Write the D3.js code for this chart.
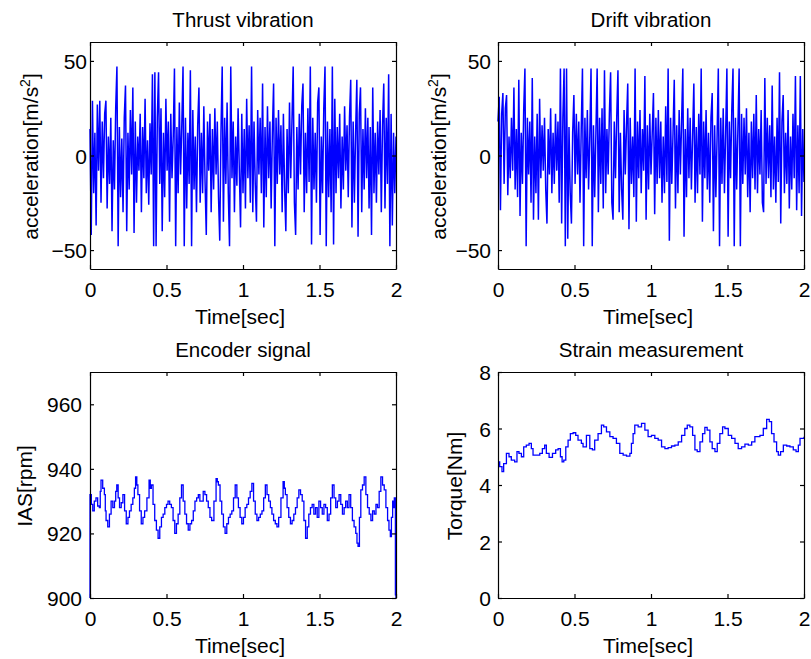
<!DOCTYPE html>
<html><head><meta charset="utf-8">
<script src="https://cdn.jsdelivr.net/npm/d3@7"></script>
<style>
body{margin:0;background:#fff;}
svg{display:block;font-family:"Liberation Sans",Arial,sans-serif;}
</style></head>
<body><svg id="c" width="811" height="659"></svg>
<script>
// ---------------- DATA ----------------
const xTicks = [0, 0.5, 1, 1.5, 2];
const xTickLabels = ["0", "0.5", "1", "1.5", "2"];
const vibYTicks = [-50, 0, 50];
const encYTicks = [900, 920, 940, 960];
const torYTicks = [0, 2, 4, 6, 8];
const vibDt = 0.008; // sample spacing [s]

const thrust = [
 14,-42,29,-20,12,-37,27,-8,29,-25,
 18,-12,22,29,-28,10,-15,20,-40,8,
 -18,25,47,-48,15,-22,9,-30,20,37,
 -40,12,-18,24,-10,36,-41,18,-25,10,
 -8,22,-30,15,-12,30,-20,8,-26,17,
 -10,43,-48,44,-48,20,44,-15,25,-40,
 12,-22,30,-8,18,-35,22,-12,10,46,
 -48,15,-20,28,-10,16,47,-48,20,-28,
 12,-15,45,-48,24,-18,10,-30,16,36,
 -25,12,-20,26,-14,-42,18,-8,22,-30,
 14,-18,25,-10,18,-22,-45,12,47,-35,
 20,-15,28,-20,-48,47,-12,18,-30,10,
 -16,25,-8,-38,22,-20,14,-28,30,-12,
 16,-25,47,-30,18,-15,-35,24,-10,20,
 -20,38,-38,15,-22,26,-12,18,-28,12,
 38,-48,20,-15,24,-10,16,-30,22,-18,
 -40,14,-20,28,-12,18,47,-25,-42,15,
 -18,22,-10,26,38,-30,12,-20,25,-14,
 47,-47,20,-18,12,-25,28,36,-42,10,
 -20,25,47,-48,18,-22,14,-30,47,-47,
 30,-20,15,-12,22,-28,10,-18,26,-8,
 16,-22,20,40,-38,18,-25,12,40,-43,
 22,36,-30,14,-18,25,-12,20,-28,15,
 -42,36,-20,12,-25,18,-10,24,-30,16,
 38,-28,20,-15,43,-48,22,-37,12,-20,
 10
];

const drift = [
 18,31,-29,22,33,-15,25,32,-21,10,
 -12,20,-8,36,-18,14,-22,40,-32,12,
 -15,24,46,-48,20,-10,18,-25,41,-34,
 10,-20,22,-34,30,-12,16,-8,20,-18,
 -36,14,-10,25,-20,12,-15,22,-8,18,
 -25,46,-36,20,46,-48,46,-44,15,-20,
 -36,12,32,-15,22,-10,18,-25,14,46,
 -48,20,-12,24,-18,10,46,-48,16,-22,
 12,46,-30,20,-15,25,-28,45,-20,14,
 -10,22,44,-25,-34,18,-12,20,45,-30,
 12,-18,-34,24,-10,16,38,-39,20,-15,
 10,-22,46,-35,18,-12,24,-20,14,-8,
 42,-34,16,-18,22,-10,12,33,-31,20,
 -15,24,-12,18,-25,10,-20,26,-14,46,
 -45,20,-15,12,40,-28,16,-20,24,-10,
 18,46,-43,14,-22,25,-12,20,-18,10,
 38,-25,15,-20,22,-10,46,-35,18,-12,
 24,-18,12,-25,20,33,-40,16,-22,10,
 46,-48,20,-15,25,-20,12,46,-43,18,
 -12,24,46,-48,20,-18,14,46,-48,22,
 -15,20,-10,25,-22,12,-30,18,-12,22,
 -18,32,-20,14,-10,24,-25,-30,41,-15,
 20,-12,16,-22,37,-18,10,-25,20,-14,
 44,-36,18,32,-20,12,-15,24,-28,10,
 -18,22,-12,42,-29,16,-20,42,-32,14,
 -14
];

// [time s, rpm]
const encoderSamples = [
 [0,900],[0,932],[0.009,929],[0.018,927],[0.028,930],[0.039,931],[0.05,928.5],[0.061,928],[0.067,933],[0.072,936.5],
 [0.083,934],[0.094,932],[0.1,927],[0.105,924],[0.116,922],[0.127,926],[0.138,930],[0.149,928],[0.160,930],[0.168,933],
 [0.175,935],[0.184,931],[0.193,928],[0.204,929.5],[0.215,932],[0.226,927],[0.237,923],[0.248,925],[0.258,927],[0.269,929],
 [0.280,931],[0.29,934],[0.298,937.5],[0.306,935],[0.313,932],[0.324,927],[0.335,923],[0.346,925],[0.357,927],[0.372,931],
 [0.386,936.5],[0.394,934],[0.401,935],[0.412,929],[0.423,924],[0.434,921],[0.445,918.5],[0.456,922],[0.467,925],[0.478,926],
 [0.489,928],[0.5,929],[0.510,930],[0.521,929],[0.532,928],[0.543,924],[0.554,920],[0.565,923],[0.576,926],[0.587,931],
 [0.598,935],[0.609,930],[0.620,926],[0.631,923],[0.642,921],[0.653,923],[0.664,924],[0.675,927],[0.686,930],[0.697,931],
 [0.708,932],[0.718,930],[0.729,930],[0.74,933],[0.751,932],[0.762,930],[0.773,928],[0.784,925],[0.795,924],[0.81,930],
 [0.824,937],[0.832,936],[0.839,935],[0.85,930],[0.861,926],[0.872,922],[0.883,920],[0.894,923],[0.905,925],[0.916,926],
 [0.927,927],[0.938,931],[0.949,935],[0.96,931],[0.970,928],[0.981,925],[0.992,923],[1.003,925],[1.014,928],[1.025,929],
 [1.036,931],[1.047,933],[1.058,935.5],[1.069,930],[1.080,926],[1.091,924],[1.102,925],[1.113,926],[1.124,927],[1.135,931],
 [1.146,935],[1.157,932],[1.168,930],[1.179,928],[1.189,926],[1.2,924],[1.211,923],[1.222,922],[1.233,925],[1.248,931],
 [1.262,936],[1.27,934],[1.277,932],[1.288,928],[1.299,925],[1.31,923],[1.321,924],[1.332,926],[1.343,928],[1.354,931],
 [1.365,933.5],[1.376,932],[1.387,930],[1.398,924],[1.409,918.5],[1.42,922],[1.430,926],[1.441,928],[1.452,929],[1.463,926],
 [1.474,928],[1.485,925],[1.496,930],[1.507,928],[1.518,926],[1.529,929],[1.540,928],[1.551,924],[1.562,926],[1.573,931],
 [1.584,935],[1.595,931],[1.606,928],[1.617,930],[1.628,932],[1.639,929],[1.650,926],[1.661,928],[1.671,930],[1.682,928],
 [1.693,932],[1.704,928],[1.715,924],[1.726,922],[1.737,920],[1.745,917],[1.752,916],[1.761,925],[1.770,933.5],[1.781,935],
 [1.792,937.5],[1.803,932],[1.814,928],[1.825,926],[1.836,924],[1.847,927],[1.858,926],[1.869,929],[1.879,928],[1.89,933],
 [1.901,937.5],[1.912,935],[1.923,933.5],[1.934,928],[1.945,924],[1.954,921],[1.963,919],[1.97,925],[1.978,930],[1.984,928],
 [1.989,931],[1.996,901],[2.0,900]
];

// [time s, torque Nm]
const torqueSamples = [
 [0,4.82],[0.011,4.65],[0.026,4.47],[0.037,4.76],[0.055,5.12],[0.072,5.0],[0.087,4.88],[0.109,4.82],[0.124,5.18],[0.137,5.12],
 [0.153,5.0],[0.168,5.35],[0.185,5.41],[0.203,5.47],[0.218,5.29],[0.229,5.06],[0.251,5.06],[0.273,5.12],[0.290,5.29],[0.305,5.41],
 [0.316,5.12],[0.334,4.98],[0.356,5.12],[0.377,5.24],[0.393,5.29],[0.408,5.0],[0.419,4.82],[0.430,4.88],[0.443,5.35],[0.458,5.59],
 [0.473,5.82],[0.491,5.85],[0.508,5.76],[0.523,5.59],[0.545,5.47],[0.556,5.35],[0.578,5.76],[0.589,5.76],[0.600,5.29],[0.617,5.24],
 [0.632,5.59],[0.654,5.82],[0.676,6.12],[0.691,6.06],[0.709,5.88],[0.731,5.71],[0.752,5.65],[0.774,5.47],[0.796,5.12],[0.818,5.06],
 [0.840,5.02],[0.862,5.12],[0.872,5.47],[0.883,5.82],[0.894,6.12],[0.916,6.06],[0.938,6.18],[0.960,5.94],[0.981,5.71],[1.003,5.76],
 [1.025,5.65],[1.047,5.59],[1.069,5.35],[1.091,5.29],[1.112,5.32],[1.134,5.38],[1.156,5.41],[1.178,5.53],[1.200,5.76],[1.221,6.0],
 [1.237,6.12],[1.254,6.06],[1.272,5.76],[1.287,5.24],[1.302,5.18],[1.320,5.53],[1.337,5.82],[1.352,6.04],[1.367,5.94],[1.385,5.53],
 [1.400,5.29],[1.418,5.18],[1.433,5.47],[1.450,5.82],[1.468,6.06],[1.483,6.0],[1.505,5.76],[1.527,5.65],[1.549,5.47],[1.570,5.29],
 [1.592,5.35],[1.614,5.45],[1.636,5.41],[1.658,5.53],[1.679,5.71],[1.712,5.76],[1.734,6.0],[1.756,6.32],[1.773,6.24],[1.788,5.82],
 [1.804,5.53],[1.821,5.18],[1.832,5.06],[1.847,5.18],[1.865,5.41],[1.887,5.38],[1.908,5.35],[1.930,5.24],[1.948,5.18],[1.963,5.41],
 [1.974,5.65],[2.0,5.71]
];

// ---------------- DRAW ----------------
const svg = d3.select("#c");
const BLUE = "#0000ff";

const panels = [
 {title:"Thrust vibration", ylab:"accel", box:[90,396,42,269], ydom:[-60,60], yticks:vibYTicks,
  data: thrust.map((v,i)=>[i*vibDt, v]), curve:d3.curveLinear, sw:1.5, tickGap:3, ylabX:38},
 {title:"Drift vibration", ylab:"accel", box:[498,804,42,269], ydom:[-60,60], yticks:vibYTicks,
  data: drift.map((v,i)=>[i*vibDt, v]), curve:d3.curveLinear, sw:1.5, tickGap:7, ylabX:446},
 {title:"Encoder signal", ylab:"IAS[rpm]", box:[90,396,372,598], ydom:[900,970], yticks:encYTicks,
  data: encoderSamples, curve:d3.curveStepAfter, sw:1.3, tickGap:8, ylabX:32},
 {title:"Strain measurement", ylab:"Torque[Nm]", box:[498,804,372,598], ydom:[0,8], yticks:torYTicks,
  data: torqueSamples, curve:d3.curveStepAfter, sw:1.3, tickGap:7, ylabX:462}
];

const FS = 21;
panels.forEach(p => {
  const [x0,x1,y0,y1] = p.box;
  const x = d3.scaleLinear().domain([0,2]).range([x0,x1]);
  const y = d3.scaleLinear().domain(p.ydom).range([y1,y0]);
  const g = svg.append("g");

  // data line
  const line = d3.line().x(d=>x(d[0])).y(d=>y(d[1])).curve(p.curve);
  g.append("path").datum(p.data).attr("d", line)
    .attr("fill","none").attr("stroke",BLUE).attr("stroke-width",p.sw);

  // axes (MATLAB style inward ticks, on all sides)
  const tl = 4;
  const xb = d3.axisBottom(x).tickValues(xTicks).tickSizeInner(-tl).tickSizeOuter(0).tickFormat((d,i)=>xTickLabels[i]);
  const xt = d3.axisTop(x).tickValues(xTicks).tickSizeInner(-tl).tickSizeOuter(0).tickFormat("");
  const yl = d3.axisLeft(y).tickValues(p.yticks).tickSizeInner(-tl).tickSizeOuter(0).tickFormat(d3.format("d"));
  const yr = d3.axisRight(y).tickValues(p.yticks).tickSizeInner(-tl).tickSizeOuter(0).tickFormat("");

  const gxb = g.append("g").attr("transform",`translate(0,${y1})`).call(xb);
  const gxt = g.append("g").attr("transform",`translate(0,${y0})`).call(xt);
  const gyl = g.append("g").attr("transform",`translate(${x0},0)`).call(yl);
  const gyr = g.append("g").attr("transform",`translate(${x1},0)`).call(yr);
  [gxb,gxt,gyl,gyr].forEach(a=>{
    a.select(".domain").attr("stroke","#000").attr("stroke-width",1.2);
    a.selectAll(".tick line").attr("stroke","#000").attr("stroke-width",1.2);
  });
  gxb.selectAll(".tick text").attr("font-size",FS).attr("font-family","Liberation Sans, Arial, sans-serif")
    .attr("fill","#000").attr("dy",null).attr("y",28);
  gyl.selectAll(".tick text").attr("font-size",FS).attr("font-family","Liberation Sans, Arial, sans-serif")
    .attr("fill","#000").attr("x",-p.tickGap).attr("dy","0.36em");

  // title
  g.append("text").attr("x",(x0+x1)/2).attr("y",y0-15.5).attr("text-anchor","middle")
    .attr("font-size",20.5).attr("fill","#000").text(p.title);
  // x label
  g.append("text").attr("x",(x0+x1)/2-3).attr("y",y1+55).attr("text-anchor","middle")
    .attr("font-size",FS).attr("fill","#000").text("Time[sec]");
  // y label
  const yt = g.append("text").attr("transform",`translate(${p.ylabX},${(y0+y1)/2+1}) rotate(-90)`)
    .attr("text-anchor","middle").attr("font-size",FS).attr("fill","#000");
  if (p.ylab === "accel") {
    yt.append("tspan").text("acceleration[m/s");
    yt.append("tspan").attr("font-size",14).attr("dy",-8).text("2");
    yt.append("tspan").attr("dy",8).text("]");
  } else {
    yt.text(p.ylab);
  }
});
</script>
</body></html>
